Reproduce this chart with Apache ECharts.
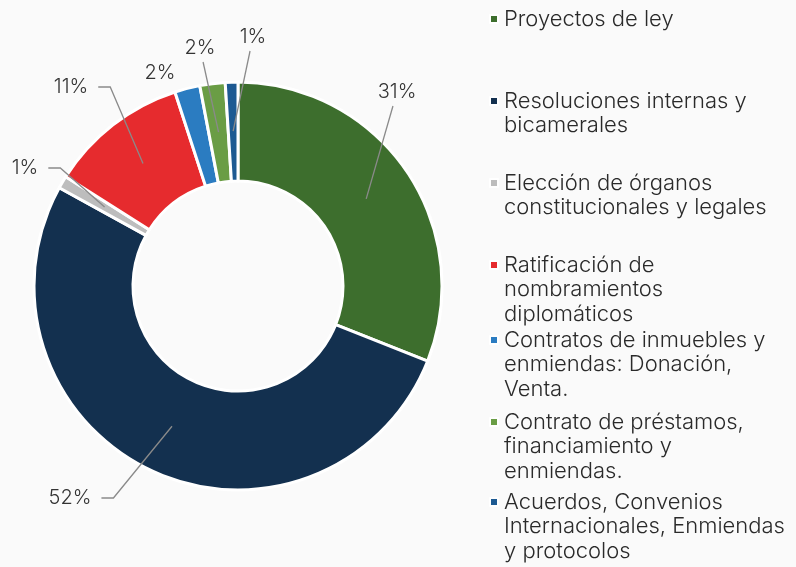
<!DOCTYPE html>
<html>
<head>
<meta charset="utf-8">
<script src="https://cdn.jsdelivr.net/npm/echarts@6/dist/echarts.min.js"></script>
<style>
    html, body { margin: 0; padding: 0; background: #fafafa; }
    #chart { width: 796px; height: 567px; }
</style>
</head>
<body>
<div id="chart"></div>
<script>
    // data
    var categories = [
        'Proyectos de ley',
        'Resoluciones internas y bicamerales',
        'Elección de órganos constitucionales y legales',
        'Ratificación de nombramientos diplomáticos',
        'Contratos de inmuebles y enmiendas: Donación, Venta.',
        'Contrato de préstamos, financiamiento y enmiendas.',
        'Acuerdos, Convenios Internacionales, Enmiendas y protocolos'
    ];
    var percents = [31, 52, 1, 11, 2, 2, 1];
    // how the legend text wraps in the picture
    var legendLines = [
        ['Proyectos de ley'],
        ['Resoluciones internas y', 'bicamerales'],
        ['Elección de órganos', 'constitucionales y legales'],
        ['Ratificación de', 'nombramientos', 'diplomáticos'],
        ['Contratos de inmuebles y', 'enmiendas: Donación,', 'Venta.'],
        ['Contrato de préstamos,', 'financiamiento y', 'enmiendas.'],
        ['Acuerdos, Convenios', 'Internacionales, Enmiendas', 'y protocolos']
    ];

    var colors = ['#3d6e2d', '#13304f', '#bdbdbd', '#e62b2e', '#2b7cc1', '#6a9d45', '#1d5a92'];

    var cx = 238, cy = 286, rOut = 204, rIn = 105, rLine = 155;
    // label spots (text centre) and whether the leader has a horizontal tail
    var labelSpots = [
        {x: 397, y: 92, tail: false},
        {x: 70, y: 498, tail: true},
        {x: 25, y: 168, tail: true},
        {x: 71, y: 87, tail: true},
        {x: 160, y: 73, tail: false, noLine: true},
        {x: 200, y: 48, tail: false},
        {x: 253, y: 37, tail: false}
    ];
    var legendY = [19, 101, 183, 265, 340, 422, 502];
    var lh = 24.5;
    var font = 'Inter';

    var myChart = echarts.init(document.getElementById('chart'));

    var pieData = categories.map(function (c, i) {
        return {name: c, value: percents[i], itemStyle: {color: colors[i]}};
    });

    // transparent copy that only carries the labels, drawn above the ring
    var labelData = categories.map(function (c, i) {
        var item = {name: c, value: percents[i]};
        if (labelSpots[i].noLine) {
            item.labelLine = {show: false};
        }
        return item;
    });

    var legends = categories.map(function (c, i) {
        var n = legendLines[i].length;
        var pre = [];
        for (var k = 1; k < n; k++) pre.push('');
        return {
            left: 489,
            top: legendY[i] - (2 * n - 1) * lh / 2,
            padding: 0,
            icon: 'rect',
            itemWidth: 8,
            itemHeight: 8,
            itemGap: 0,
            selectedMode: false,
            data: [c],
            formatter: function () {
                return pre.concat(legendLines[i]).join('\n');
            },
            textStyle: {
                fontFamily: font,
                fontSize: 22,
                fontWeight: 300,
                color: '#2a2a2a',
                lineHeight: lh,
                padding: [0, 0, 0, 1]
            }
        };
    });

    var option = {
        backgroundColor: '#fafafa',
        animation: false,
        legend: legends,
        series: [
            {
                type: 'pie',
                center: [cx, cy],
                radius: [rIn, rOut],
                startAngle: 90,
                clockwise: true,
                z: 2,
                itemStyle: {
                    borderColor: '#ffffff',
                    borderWidth: 3
                },
                label: {show: false},
                labelLine: {show: false},
                data: pieData
            },
            {
                type: 'pie',
                center: [cx, cy],
                radius: [rIn, rOut],
                startAngle: 90,
                clockwise: true,
                z: 5,
                silent: true,
                avoidLabelOverlap: false,
                itemStyle: {color: 'rgba(0,0,0,0)', borderWidth: 0},
                label: {
                    show: true,
                    formatter: '{c}%',
                    fontFamily: font,
                    fontSize: 20,
                    fontWeight: 300,
                    color: '#333333'
                },
                labelLine: {
                    show: true,
                    lineStyle: {color: '#8a8a8a', width: 1.3}
                },
                labelLayout: function (p) {
                    var s = labelSpots[p.dataIndex];
                    var res = {x: s.x, y: s.y, align: 'center', verticalAlign: 'middle'};
                    if (!p.labelLinePoints || s.noLine) {
                        return res;
                    }
                    // start of leader: mid-angle point pulled into the ring
                    var p0 = p.labelLinePoints[0];
                    var k = rLine / rOut;
                    var sx = cx + (p0[0] - cx) * k;
                    var sy = cy + (p0[1] - cy) * k;
                    var w = p.labelRect.width;
                    if (s.tail) {
                        var ex = s.x + w / 2 + 10;
                        res.labelLinePoints = [[sx, sy], [ex + 12, s.y], [ex, s.y]];
                    } else {
                        var ey = s.y + 14;
                        var f = (sy - ey) / (sy - s.y);
                        var mx = sx + (s.x - sx) * f;
                        res.labelLinePoints = [[sx, sy], [mx, ey], [mx, ey]];
                    }
                    return res;
                },
                data: labelData
            }
        ]
    };

    option && myChart.setOption(option);
</script>
</body>
</html>
